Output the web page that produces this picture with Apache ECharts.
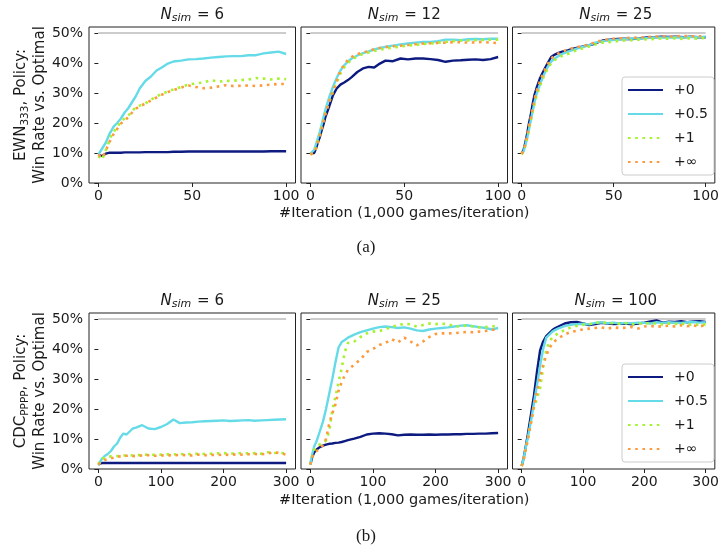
<!DOCTYPE html>
<html>
<head>
<meta charset="utf-8">
<script src="https://cdn.jsdelivr.net/npm/echarts@6/dist/echarts.min.js"></script>
<style>
  html, body { margin: 0; padding: 0; background: #fff; }
  #chart { width: 722px; height: 549px; }
</style>
</head>
<body>
<div id="chart"></div>
<script>
// ---- Iterations sampled along the x axis ----
const topIter = [0,1,2,3,4,5,6,7,8,10,12,14,16,18,20,22,25,28,31,34,37,40,44,48,52,56,60,64,68,72,76,80,84,88,92,96,100];
const botIter = [0,3,6,10,15,20,25,30,35,40,45,50,55,60,70,80,90,100,110,120,130,140,150,160,170,180,190,200,210,220,230,240,250,260,270,280,290,300];

// ---- Tick labels ----
const yTicks = [0,10,20,30,40,50];
const topXTicks = [0,50,100];
const botXTicks = [0,100,200,300];

// ---- Panel labels ----
const seriesNames = ['+0','+0.5','+1','+\u221e'];
const topSims = [6,12,25];
const botSims = [6,25,100];
const optimalRate = 50;

// ---- EWN333, win rate (%) vs. optimal ----
const ewnSim6_p0   = [9.5,9.3,9.0,9.3,9.8,10.0,10.1,10.0,10.1,10.1,10.1,10.2,10.2,10.2,10.2,10.2,10.3,10.3,10.3,10.3,10.3,10.4,10.4,10.5,10.5,10.5,10.5,10.5,10.5,10.5,10.5,10.5,10.5,10.5,10.6,10.6,10.6];
const ewnSim6_p05  = [9.5,10.5,11.5,12.5,13.5,15.0,16.5,17.5,18.7,20.0,21.5,23.5,25.0,27.0,29.0,31.5,34.0,35.5,37.5,38.6,39.8,40.5,40.8,41.2,41.3,41.5,41.8,42.0,42.2,42.3,42.3,42.6,42.6,43.2,43.5,43.8,43.0];
const ewnSim6_p1   = [9.0,8.5,7.8,9.5,11.0,12.5,14.5,16.0,17.0,18.5,20.5,21.5,22.5,24.0,25.3,25.8,26.5,27.8,28.8,29.8,30.5,31.2,32.0,32.8,33.2,33.5,34.3,33.8,34.0,34.1,34.3,34.5,35.0,34.8,34.5,34.8,34.6];
const ewnSim6_inf  = [9.5,9.0,8.5,9.5,11.0,12.3,13.8,15.2,16.2,18.0,19.8,20.8,22.0,23.5,24.8,25.5,26.5,27.5,28.5,29.5,30.3,31.0,31.8,32.5,32.0,31.6,31.8,32.2,32.6,32.3,32.4,32.5,32.3,32.6,32.8,33.0,33.0];

const ewnSim12_p0  = [9.9,9.8,10.0,11.5,13.5,15.3,17.5,19.5,22.0,25.5,29.2,31.5,32.8,33.5,34.3,35.3,37.0,38.2,38.7,38.5,39.8,40.8,40.6,41.5,41.2,41.5,41.5,41.3,41.0,40.4,40.8,40.9,41.1,41.2,41.0,41.3,42.0];
const ewnSim12_p05 = [9.8,10.3,11.0,13.0,15.0,17.0,19.5,22.0,24.5,28.5,32.0,35.0,37.5,39.2,40.5,41.5,42.5,43.3,43.9,44.5,45.0,45.4,45.8,46.2,46.5,46.8,47.0,47.0,47.3,47.8,47.8,47.6,47.9,48.0,47.9,48.1,48.1];
const ewnSim12_p1  = [9.5,9.8,10.3,12.0,14.0,16.0,18.5,21.0,23.5,27.0,30.5,33.5,36.5,38.5,40.0,41.2,42.2,43.0,43.5,44.0,44.4,44.8,45.1,45.5,45.8,46.0,46.3,46.5,46.8,47.0,47.3,47.5,47.5,47.6,47.7,47.8,47.8];
const ewnSim12_inf = [9.5,9.5,10.0,11.5,13.5,15.5,18.0,20.5,23.0,27.0,30.5,34.0,37.5,39.5,41.0,42.0,43.0,43.5,44.0,44.6,45.0,45.3,45.6,45.8,46.0,46.3,46.5,46.6,46.7,46.8,46.9,46.9,46.8,46.9,47.0,46.8,46.6];

const ewnSim25_p0  = [9.9,11.0,13.5,16.5,20.0,23.0,26.5,29.5,31.5,35.0,37.5,39.8,42.0,42.8,43.4,43.8,44.2,44.8,45.2,45.6,46.0,46.5,47.5,47.8,48.0,48.1,48.0,48.2,48.5,48.6,48.8,48.7,48.8,48.6,48.8,48.6,48.6];
const ewnSim25_p05 = [9.8,10.5,12.5,15.0,18.0,21.0,24.0,27.0,29.5,33.0,36.0,38.5,40.5,41.5,42.3,43.0,43.8,44.4,45.0,45.5,46.0,46.8,47.3,47.6,47.8,48.0,48.2,48.1,48.3,48.5,48.5,48.5,48.6,48.5,48.7,48.6,48.8];
const ewnSim25_p1  = [9.5,10.5,12.5,15.0,18.0,21.0,24.0,26.5,29.0,32.5,35.5,38.0,40.0,41.0,41.8,42.4,43.0,43.8,44.5,45.0,45.6,46.2,46.8,47.0,47.3,47.5,47.6,47.8,47.9,48.0,48.2,48.1,48.3,48.0,48.3,48.1,48.4];
const ewnSim25_inf = [9.7,11.0,13.0,16.0,19.0,22.0,25.0,28.0,30.5,34.0,37.0,39.5,41.5,42.5,43.2,43.8,44.4,45.0,45.4,45.8,46.2,47.0,47.6,48.0,48.2,48.3,48.4,48.5,48.6,48.8,48.9,48.8,48.9,49.0,48.9,48.9,49.0];

// ---- CDCpppp, win rate (%) vs. optimal ----
const cdcSim6_p0   = [1.5,1.8,2.0,2.0,2.0,2.0,2.0,2.0,2.0,2.0,2.0,2.0,2.0,2.0,2.0,2.0,2.0,2.0,2.0,2.0,2.0,2.0,2.0,2.0,2.0,2.0,2.0,2.0,2.0,2.0,2.0,2.0,2.0,2.0,2.0,2.0,2.0,2.0];
const cdcSim6_p05  = [1.2,2.5,3.5,4.3,5.0,6.0,7.5,8.5,10.5,11.8,11.5,12.5,13.5,13.8,14.6,13.5,13.3,14.0,15.0,16.5,15.3,15.5,15.6,15.8,15.9,16.0,16.1,16.2,16.0,16.1,16.2,16.3,16.1,16.2,16.3,16.4,16.5,16.6];
const cdcSim6_p1   = [1.5,3.0,3.6,3.8,4.0,4.2,4.2,4.3,4.4,4.5,4.5,4.6,4.5,4.6,4.7,4.8,4.7,4.8,4.9,4.8,5.0,4.9,5.0,5.1,5.0,5.1,5.2,5.3,5.1,5.2,5.3,5.2,5.3,5.1,5.6,5.3,5.4,5.2];
const cdcSim6_inf  = [1.5,2.0,2.5,3.0,3.3,3.6,3.8,4.0,4.2,4.3,4.4,4.5,4.3,4.4,4.5,4.6,4.4,4.5,4.6,4.5,4.7,4.6,4.5,4.8,4.6,4.7,4.6,4.8,4.7,4.9,4.8,4.9,5.0,4.9,5.1,5.6,5.3,4.8];

const cdcSim25_p0  = [1.5,4.0,5.5,6.5,7.3,7.8,8.1,8.4,8.5,8.7,8.8,9.0,9.3,9.6,10.1,10.7,11.5,11.8,11.9,11.8,11.6,11.2,11.4,11.5,11.4,11.4,11.5,11.4,11.5,11.5,11.6,11.6,11.7,11.7,11.8,11.8,11.9,12.0];
const cdcSim25_p05 = [1.8,5.0,7.5,9.3,12.5,15.7,20.0,25.0,30.0,35.5,40.5,42.3,43.0,43.8,44.8,45.6,46.2,46.8,47.3,47.5,47.3,47.0,47.2,46.8,46.2,46.0,46.5,46.8,47.0,47.2,47.5,47.8,47.9,47.6,47.3,47.0,46.5,47.0];
const cdcSim25_p1  = [1.5,4.5,6.5,7.5,8.2,8.5,9.5,12.5,19.5,24.0,29.0,33.5,39.0,42.0,42.5,44.0,45.2,45.8,46.0,46.5,47.5,47.8,48.5,48.2,47.5,48.0,48.5,48.3,48.5,48.2,47.6,47.5,47.9,47.5,47.2,47.3,47.5,47.8];
const cdcSim25_inf = [1.5,4.0,5.3,6.0,6.7,8.0,10.0,15.0,18.5,21.5,26.0,29.0,31.2,33.0,34.8,36.5,39.0,40.0,41.3,42.0,43.3,42.2,43.8,42.5,41.2,42.5,44.0,45.0,45.2,45.2,45.3,45.5,45.7,45.6,45.8,46.0,46.3,46.8];

const cdcSim100_p0  = [1.0,3.5,6.8,11.5,18.0,24.5,32.5,39.5,42.5,44.3,45.3,46.3,47.0,47.5,48.5,48.9,49.0,48.5,48.0,48.3,48.7,48.5,48.3,48.4,48.5,48.2,48.5,48.8,49.2,49.5,48.8,49.1,49.0,49.3,48.9,49.2,49.3,49.0];
const cdcSim100_p05 = [1.0,3.3,6.5,10.5,15.8,22.0,28.0,34.5,40.0,43.8,44.8,45.8,46.4,46.9,47.6,48.1,48.3,48.4,48.2,48.7,48.9,48.6,48.8,48.5,48.7,48.6,48.8,48.7,48.5,48.9,48.7,48.9,48.8,48.7,48.9,49.0,48.8,48.9];
const cdcSim100_p1  = [1.0,3.0,6.0,10.0,15.5,20.5,23.5,27.0,34.0,39.5,42.5,43.8,44.6,45.3,46.3,47.2,47.7,48.1,48.3,48.6,49.1,48.5,48.7,48.4,48.6,48.2,48.5,48.4,48.7,48.4,48.2,48.5,48.3,48.6,48.0,48.3,48.0,48.2];
const cdcSim100_inf = [1.0,3.0,5.8,9.8,15.2,20.8,25.8,30.5,34.7,37.8,40.3,41.8,42.8,43.6,44.8,45.7,46.1,46.5,46.8,47.0,47.2,46.8,47.2,47.0,47.1,47.3,46.8,47.5,47.7,47.4,47.6,47.8,47.5,47.9,47.6,47.9,47.5,48.0];

// ---- Panels: one row per game, one column per simulation count ----
const panels = [
  { row: 0, col: 0, sim: topSims[0], iter: topIter, xTicks: topXTicks, values: [ewnSim6_p0, ewnSim6_p05, ewnSim6_p1, ewnSim6_inf] },
  { row: 0, col: 1, sim: topSims[1], iter: topIter, xTicks: topXTicks, values: [ewnSim12_p0, ewnSim12_p05, ewnSim12_p1, ewnSim12_inf] },
  { row: 0, col: 2, sim: topSims[2], iter: topIter, xTicks: topXTicks, values: [ewnSim25_p0, ewnSim25_p05, ewnSim25_p1, ewnSim25_inf] },
  { row: 1, col: 0, sim: botSims[0], iter: botIter, xTicks: botXTicks, values: [cdcSim6_p0, cdcSim6_p05, cdcSim6_p1, cdcSim6_inf] },
  { row: 1, col: 1, sim: botSims[1], iter: botIter, xTicks: botXTicks, values: [cdcSim25_p0, cdcSim25_p05, cdcSim25_p1, cdcSim25_inf] },
  { row: 1, col: 2, sim: botSims[2], iter: botIter, xTicks: botXTicks, values: [cdcSim100_p0, cdcSim100_p05, cdcSim100_p1, cdcSim100_inf] }
];

// ---- Layout and styling ----
const FONT = 'DejaVu Sans';
const INK = '#1a1a1a';
const gridLeft = [89, 301, 512.5];
const gridTop = [27, 313];
const gridW = 206.5, gridH = 156;
const lineStyles = [
  { color: '#0d1a80', width: 2.4, type: 'solid' },
  { color: '#66dbe8', width: 2.4, type: 'solid' },
  { color: '#a6f22e', width: 2.6, type: [2.6, 4.6] },
  { color: '#ff9a3c', width: 2.6, type: [2.6, 4.6] }
];

const grids = [], xAxes = [], yAxes = [], series = [];
panels.forEach((p, i) => {
  grids.push({
    left: gridLeft[p.col], top: gridTop[p.row], width: gridW, height: gridH,
    show: true, borderColor: '#222', borderWidth: 1, backgroundColor: 'transparent'
  });
  const xMax = p.iter[p.iter.length - 1];
  const pad = xMax * 0.05;
  xAxes.push({
    gridIndex: i, type: 'value', min: -pad, max: xMax + pad,
    axisLine: { show: false },
    splitLine: { show: false },
    axisTick: { show: true, length: 4, lineStyle: { color: '#222' }, customValues: p.xTicks },
    axisLabel: { color: INK, fontFamily: FONT, fontSize: 14, margin: 6, customValues: p.xTicks }
  });
  yAxes.push({
    gridIndex: i, type: 'value', min: 0, max: 52,
    axisLine: { show: false },
    splitLine: { show: false },
    axisTick: { show: true, length: 4, lineStyle: { color: '#222' }, customValues: yTicks },
    axisLabel: {
      show: p.col === 0, color: INK, fontFamily: FONT, fontSize: 14, margin: 6,
      customValues: yTicks, formatter: v => v + '%'
    }
  });
  // optimal-play reference line
  series.push({
    type: 'line', xAxisIndex: i, yAxisIndex: i, silent: true,
    symbol: 'none', z: 1,
    lineStyle: { color: '#cccccc', width: 2 },
    data: [[p.iter[0], optimalRate], [xMax, optimalRate]]
  });
  p.values.forEach((vals, k) => {
    const st = lineStyles[k];
    series.push({
      name: seriesNames[k], type: 'line', xAxisIndex: i, yAxisIndex: i,
      symbol: 'none', showSymbol: false, z: 2 + k,
      color: st.color,
      lineStyle: { color: st.color, width: st.width, type: st.type, cap: 'butt' },
      data: p.iter.map((x, j) => [x, vals[j]])
    });
  });
});

const legendBase = {
  orient: 'vertical', left: 622, width: 89,
  padding: [6, 6, 6, 5],
  itemWidth: 35, itemHeight: 12, itemGap: 10,
  backgroundColor: 'rgba(255,255,255,0.85)',
  borderColor: '#cccccc', borderWidth: 1, borderRadius: 3,
  itemStyle: { opacity: 0, borderWidth: 0 },
  textStyle: { fontFamily: FONT, fontSize: 14, color: INK, padding: [0, 0, 0, 6] },
  data: seriesNames,
  selectedMode: false
};

function simTitle(x, y, sim) {
  return {
    type: 'text', x: x, y: y,
    style: {
      text: '{n|N}{s|sim}{e| = ' + sim + '}',
      align: 'center', verticalAlign: 'middle',
      rich: {
        n: { fontFamily: FONT, fontSize: 15, fontStyle: 'italic', fill: INK, lineHeight: 18, verticalAlign: 'middle' },
        s: { fontFamily: FONT, fontSize: 11, fontStyle: 'italic', fill: INK, lineHeight: 11, verticalAlign: 'bottom', padding: [0, 1, 0, 0] },
        e: { fontFamily: FONT, fontSize: 15, fill: INK, lineHeight: 18, verticalAlign: 'middle' }
      }
    }
  };
}

function yName(cx, cy, game) {
  return {
    type: 'text', x: cx, y: cy, rotation: Math.PI / 2,
    style: {
      text: '{a|' + game[0] + '}{s|' + game[1] + '}{a|, Policy:}\n{a|Win Rate vs. Optimal}',
      align: 'center', verticalAlign: 'middle',
      rich: {
        a: { fontFamily: FONT, fontSize: 15, fill: INK, lineHeight: 19, verticalAlign: 'middle' },
        s: { fontFamily: FONT, fontSize: 10.5, fill: INK, lineHeight: 10, verticalAlign: 'bottom' }
      }
    }
  };
}

function caption(x, y, text) {
  return {
    type: 'text', x: x, y: y,
    style: { text: text, align: 'center', verticalAlign: 'middle', fontFamily: 'Liberation Serif', fontSize: 17, fill: INK }
  };
}

function xName(x, y) {
  return {
    type: 'text', x: x, y: y,
    style: { text: '#Iteration (1,000 games/iteration)', align: 'center', verticalAlign: 'middle', fontFamily: FONT, fontSize: 14.5, fill: INK }
  };
}

const graphics = [];
panels.forEach(p => {
  graphics.push(simTitle(gridLeft[p.col] + gridW / 2, gridTop[p.row] - 12, p.sim));
});
graphics.push(yName(31, gridTop[0] + gridH / 2, ['EWN', '333']));
graphics.push(yName(31, gridTop[1] + gridH / 2, ['CDC', 'PPPP']));
graphics.push(xName(gridLeft[1] + gridW / 2, 213));
graphics.push(xName(gridLeft[1] + gridW / 2, 500));
graphics.push(caption(366, 248, '(a)'));
graphics.push(caption(366, 537, '(b)'));

const chart = echarts.init(document.getElementById('chart'), null, { renderer: 'canvas' });
chart.setOption({
  animation: false,
  backgroundColor: '#ffffff',
  grid: grids,
  xAxis: xAxes,
  yAxis: yAxes,
  legend: [
    Object.assign({}, legendBase, { top: 77 }),
    Object.assign({}, legendBase, { top: 364 })
  ],
  graphic: graphics,
  series: series
});
</script>
</body>
</html>
